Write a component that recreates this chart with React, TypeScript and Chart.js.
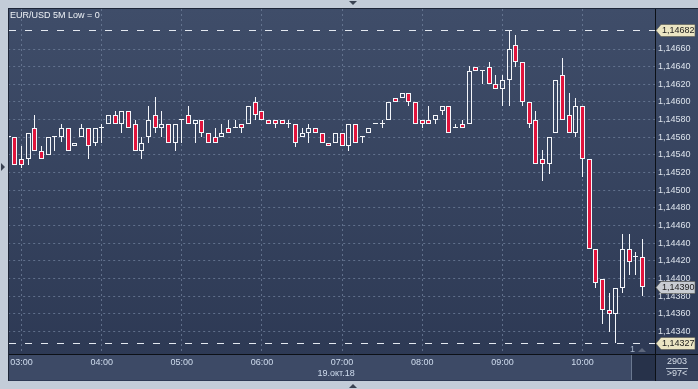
import React, { useEffect, useRef } from "react";
import { Chart, registerables, BarController } from "chart.js";

Chart.register(...registerables);

// ---- data ----
const candleTimes = [
  "02:50", "02:55",
  "03:00", "03:05", "03:10", "03:15", "03:20", "03:25", "03:30", "03:35", "03:40", "03:45", "03:50", "03:55",
  "04:00", "04:05", "04:10", "04:15", "04:20", "04:25", "04:30", "04:35", "04:40", "04:45", "04:50", "04:55",
  "05:00", "05:05", "05:10", "05:15", "05:20", "05:25", "05:30", "05:35", "05:40", "05:45", "05:50", "05:55",
  "06:00", "06:05", "06:10", "06:15", "06:20", "06:25", "06:30", "06:35", "06:40", "06:45", "06:50", "06:55",
  "07:00", "07:05", "07:10", "07:15", "07:20", "07:25", "07:30", "07:35", "07:40", "07:45", "07:50", "07:55",
  "08:00", "08:05", "08:10", "08:15", "08:20", "08:25", "08:30", "08:35", "08:40", "08:45", "08:50", "08:55",
  "09:00", "09:05", "09:10", "09:15", "09:20", "09:25", "09:30", "09:35", "09:40", "09:45", "09:50", "09:55",
  "10:00", "10:05", "10:10", "10:15", "10:20", "10:25", "10:30", "10:35", "10:40", "10:45", "10:50", "10:55",
];
const hourLabels = ["03:00", "04:00", "05:00", "06:00", "07:00", "08:00", "09:00", "10:00"];

const opens = [
  1.1456, 1.1456,
  1.14535, 1.14535, 1.1457, 1.14545, 1.1454, 1.1456, 1.1456, 1.1457, 1.1455, 1.1456, 1.1457, 1.14554,
  1.1457, 1.14575, 1.14585, 1.14575, 1.1459, 1.14575, 1.14545, 1.1456, 1.14585, 1.1457, 1.14575, 1.14554,
  1.1458, 1.14585, 1.14575, 1.1458, 1.14565, 1.1456, 1.1456, 1.1457, 1.1457, 1.14575, 1.14575, 1.146,
  1.1459, 1.1458, 1.1458, 1.1458, 1.14575, 1.14575, 1.1456, 1.14565, 1.1457, 1.14565, 1.14554, 1.14554,
  1.14565, 1.1455, 1.14575, 1.1456, 1.14565, 1.14575, 1.14575, 1.1458, 1.14605, 1.14605, 1.1461, 1.146,
  1.1458, 1.1458, 1.1458, 1.1459, 1.14595, 1.1457, 1.14575, 1.14575, 1.1464, 1.14635, 1.1464, 1.1462,
  1.14615, 1.14625, 1.14665, 1.14645, 1.146, 1.1458, 1.14535, 1.1453, 1.14565, 1.1463, 1.14585, 1.14565,
  1.14595, 1.14535, 1.14434, 1.14399, 1.14364, 1.1436, 1.14389, 1.14434, 1.14424, 1.14424,
];
const highs = [
  1.14561, 1.1456,
  1.1455, 1.14565, 1.14585, 1.1455, 1.1456, 1.1456, 1.14575, 1.1457, 1.14554, 1.14575, 1.1457, 1.1457,
  1.14575, 1.14585, 1.1459, 1.1459, 1.1459, 1.1458, 1.1456, 1.14595, 1.14606, 1.1459, 1.14575, 1.14575,
  1.1458, 1.14595, 1.1458, 1.1458, 1.14565, 1.1457, 1.14575, 1.1458, 1.1458, 1.14575, 1.14595, 1.14606,
  1.1459, 1.1458, 1.1458, 1.1458, 1.1458, 1.14575, 1.1457, 1.14575, 1.1457, 1.14565, 1.14554, 1.14565,
  1.14565, 1.14575, 1.14575, 1.1456, 1.1457, 1.14575, 1.1458, 1.146, 1.14605, 1.1461, 1.1461, 1.146,
  1.1458, 1.14595, 1.14585, 1.14595, 1.14595, 1.14575, 1.1458, 1.14641, 1.1464, 1.14635, 1.14645, 1.1463,
  1.1463, 1.14682, 1.14676, 1.14645, 1.146, 1.1459, 1.14546, 1.1456, 1.14625, 1.1465, 1.1461, 1.14605,
  1.14595, 1.14535, 1.14434, 1.14399, 1.14384, 1.14389, 1.1445, 1.1445, 1.1443, 1.14445,
];
const lows = [
  1.14559, 1.14529,
  1.14525, 1.14529, 1.14545, 1.14535, 1.1454, 1.14545, 1.14555, 1.14545, 1.1455, 1.1456, 1.14535, 1.1455,
  1.14554, 1.14575, 1.14575, 1.14565, 1.1457, 1.14545, 1.14535, 1.14554, 1.14565, 1.1456, 1.14554, 1.14545,
  1.14554, 1.14575, 1.14554, 1.1456, 1.14554, 1.14554, 1.1456, 1.14565, 1.1457, 1.14565, 1.14575, 1.1458,
  1.1458, 1.14575, 1.1457, 1.14575, 1.1457, 1.14549, 1.1456, 1.14554, 1.14565, 1.14554, 1.1455, 1.14554,
  1.1455, 1.14545, 1.14554, 1.14554, 1.14565, 1.14575, 1.1457, 1.1458, 1.146, 1.14605, 1.14595, 1.14575,
  1.1457, 1.14575, 1.14575, 1.14585, 1.14565, 1.1457, 1.1457, 1.14575, 1.14635, 1.1462, 1.1462, 1.14615,
  1.14595, 1.14595, 1.1464, 1.14595, 1.1457, 1.1453, 1.1451, 1.14519, 1.14565, 1.1458, 1.14565, 1.1456,
  1.14515, 1.14434, 1.14389, 1.14349, 1.14339, 1.14327, 1.14384, 1.14404, 1.14404, 1.1438,
];
const closes = [
  1.1456, 1.14529,
  1.14529, 1.14565, 1.14545, 1.14535, 1.1456, 1.1456, 1.1457, 1.14545, 1.14554, 1.1457, 1.1455, 1.1457,
  1.1457, 1.14585, 1.14575, 1.1459, 1.1457, 1.14545, 1.14554, 1.1458, 1.1457, 1.14575, 1.14554, 1.14575,
  1.1458, 1.14575, 1.1458, 1.14565, 1.14554, 1.14554, 1.14565, 1.14565, 1.1457, 1.1457, 1.14595, 1.14585,
  1.1458, 1.14575, 1.14575, 1.14575, 1.14575, 1.14554, 1.14565, 1.1457, 1.14565, 1.14554, 1.1455, 1.14565,
  1.1455, 1.14575, 1.14554, 1.1456, 1.1457, 1.14575, 1.14575, 1.146, 1.146, 1.1461, 1.146, 1.14575,
  1.14575, 1.14575, 1.14585, 1.14595, 1.14565, 1.1457, 1.1457, 1.14635, 1.14635, 1.14635, 1.1462, 1.14615,
  1.14625, 1.1466, 1.14645, 1.146, 1.14575, 1.1453, 1.1453, 1.1456, 1.14625, 1.1458, 1.14565, 1.14595,
  1.14535, 1.14434, 1.14395, 1.14364, 1.1436, 1.14389, 1.14434, 1.14419, 1.14424, 1.1439,
];

const priceTicks = [
  1.1434, 1.1436, 1.1438, 1.144, 1.1442, 1.1444, 1.1446, 1.1448, 1.145,
  1.1452, 1.1454, 1.1456, 1.1458, 1.146, 1.1462, 1.1464, 1.1466,
];
const yMin = 1.143146;
const yMax = 1.147053;
const highMark = 1.14682;
const lowMark = 1.14327;
const lastPrice = 1.1439;

const titleText = "EUR/USD 5M Low = 0";
const dateLabel = "19.окт.18";
const dateTick = "07:00";
const counterTop = "2903";
const counterBottom = ">97<";
const barMarker = "1";

// ---- styles ----
const FONT = "'Liberation Sans', Arial, sans-serif";
const WHITE = "#f4f6fa";
const RED = "#e1143c";
const GRID = "rgba(112,128,156,0.75)";
const AXIS_X = 655; // x of the price-axis separator line

// Bar controller that snaps bars to whole pixels so candle edges stay crisp
class SnapBarController extends (BarController as any) {
  updateElements(rects: any[], start: number, count: number, mode: any) {
    super.updateElements(rects, start, count, mode);
    for (let i = start; i < start + count; i++) {
      const r = rects[i];
      if (!r) continue;
      r.x = Math.floor(r.x) + 0.5;
      r.y = Math.round(r.y);
      r.base = Math.round(r.base);
    }
  }
}
(SnapBarController as any).id = "snapBar";
(SnapBarController as any).defaults = { ...(BarController as any).defaults };
(SnapBarController as any).overrides = (BarController as any).overrides;
Chart.register(SnapBarController as any);

function fmt(v: number): string {
  return v.toFixed(5).replace(".", ",");
}

function drawTag(ctx: CanvasRenderingContext2D, x0: number, y: number, text: string, fill: string) {
  const yy = Math.round(y) + 0.5;
  const h = 12;
  const xb = x0 + 5;
  const x1 = x0 + 39;
  ctx.beginPath();
  ctx.moveTo(x0, yy);
  ctx.lineTo(xb, yy - h / 2);
  ctx.lineTo(x1, yy - h / 2);
  ctx.lineTo(x1, yy + h / 2);
  ctx.lineTo(xb, yy + h / 2);
  ctx.closePath();
  ctx.fillStyle = fill;
  ctx.fill();
  ctx.strokeStyle = "rgba(90,90,80,0.6)";
  ctx.lineWidth = 1;
  ctx.stroke();
  ctx.fillStyle = "#1c1c1c";
  ctx.font = `9px ${FONT}`;
  ctx.textAlign = "left";
  ctx.textBaseline = "middle";
  ctx.fillText(text, xb + 1, yy + 0.5);
}

const decor = {
  id: "decor",
  beforeDraw(chart: any) {
    const { ctx, width, height, chartArea: a } = chart;
    ctx.save();
    ctx.fillStyle = "#c3ccd8";
    ctx.fillRect(0, 0, width, height);
    const panelBottom = a.bottom + 27;
    const g = ctx.createLinearGradient(0, 8, 0, panelBottom);
    g.addColorStop(0, "#3f4d69");
    g.addColorStop(1, "#2c3853");
    ctx.fillStyle = g;
    ctx.fillRect(8, 8, width - 8, panelBottom - 8);
    // bottom time panel
    ctx.fillStyle = "#3d4a66";
    ctx.fillRect(9, a.bottom, AXIS_X - 24 - 9, 26);
    ctx.fillStyle = "#27324a";
    ctx.fillRect(AXIS_X - 24, a.bottom, 24, 26);
    ctx.fillStyle = "#34405b";
    ctx.fillRect(AXIS_X, a.bottom, width - AXIS_X, 26);
    ctx.restore();
  },
  afterDraw(chart: any) {
    const { ctx, width, chartArea: a, scales } = chart;
    const y = scales.y;
    const x = scales.x;
    ctx.save();
    // frame lines
    ctx.lineWidth = 1;
    ctx.strokeStyle = "#1d2537";
    ctx.beginPath();
    ctx.moveTo(8.5, 8);
    ctx.lineTo(8.5, a.bottom + 27);
    ctx.moveTo(8, 8.5);
    ctx.lineTo(width, 8.5);
    ctx.stroke();
    ctx.strokeStyle = "#0c1016";
    ctx.beginPath();
    ctx.moveTo(AXIS_X + 0.5, a.top);
    ctx.lineTo(AXIS_X + 0.5, a.bottom + 27);
    ctx.moveTo(9, a.bottom + 0.5);
    ctx.lineTo(width, a.bottom + 0.5);
    ctx.stroke();
    ctx.strokeStyle = "#6a7890";
    ctx.beginPath();
    ctx.moveTo(AXIS_X - 23.5, a.bottom + 1);
    ctx.lineTo(AXIS_X - 23.5, a.bottom + 26);
    ctx.stroke();

    // high / low dashed lines
    ctx.strokeStyle = "#e3e8f0";
    ctx.setLineDash([7, 9]);
    for (const v of [highMark, lowMark]) {
      const py = Math.round(y.getPixelForValue(v)) + 0.5;
      ctx.beginPath();
      ctx.moveTo(9, py);
      ctx.lineTo(AXIS_X, py);
      ctx.stroke();
    }
    ctx.setLineDash([]);

    // title
    ctx.fillStyle = "#eef2f7";
    ctx.font = `9px ${FONT}`;
    ctx.textAlign = "left";
    ctx.textBaseline = "middle";
    ctx.fillText(titleText, 10, a.top + 6.5);

    // date under 07:00
    const di = candleTimes.indexOf(dateTick);
    ctx.fillStyle = "#cfdcee";
    ctx.textAlign = "center";
    ctx.fillText(dateLabel, x.getPixelForValue(di) - 6, a.bottom + 19.5);

    // bar marker
    ctx.fillStyle = "#aab8cc";
    ctx.fillText(barMarker, AXIS_X - 22.5, a.bottom - 4);
    ctx.fillStyle = "#5d677c";
    ctx.beginPath();
    ctx.moveTo(AXIS_X - 17, a.bottom - 2);
    ctx.lineTo(AXIS_X - 9, a.bottom - 2);
    ctx.lineTo(AXIS_X - 13, a.bottom - 6);
    ctx.closePath();
    ctx.fill();

    // counters in right bottom box
    const cx = (AXIS_X + width) / 2 + 0.5;
    ctx.fillStyle = "#d5dde8";
    ctx.fillText(counterTop, cx, a.bottom + 8);
    ctx.fillText(counterBottom, cx, a.bottom + 19.5);
    ctx.strokeStyle = "#b9c3d2";
    ctx.beginPath();
    ctx.moveTo(cx - 11, a.bottom + 14.5);
    ctx.lineTo(cx + 11, a.bottom + 14.5);
    ctx.stroke();

    // price tags
    drawTag(ctx, AXIS_X + 1, y.getPixelForValue(highMark), fmt(highMark), "#ebe5c3");
    drawTag(ctx, AXIS_X + 1, y.getPixelForValue(lastPrice), fmt(lastPrice), "#c9cdd3");
    drawTag(ctx, AXIS_X + 1, y.getPixelForValue(lowMark), fmt(lowMark), "#ebe5c3");

    // frame triangles
    ctx.fillStyle = "#3a4252";
    const tx = 353;
    ctx.beginPath();
    ctx.moveTo(tx - 4, 1);
    ctx.lineTo(tx + 4, 1);
    ctx.lineTo(tx, 5);
    ctx.closePath();
    ctx.fill();
    ctx.beginPath();
    ctx.moveTo(tx - 4, 388);
    ctx.lineTo(tx + 4, 388);
    ctx.lineTo(tx, 384);
    ctx.closePath();
    ctx.fill();
    ctx.beginPath();
    ctx.moveTo(1, 163);
    ctx.lineTo(1, 171);
    ctx.lineTo(5, 167);
    ctx.closePath();
    ctx.fill();
    ctx.restore();
  },
};

export default function App() {
  const ref = useRef<HTMLCanvasElement>(null);
  useEffect(() => {
    const canvas = ref.current;
    if (!canvas) return;
    const bodyColors = opens.map((o, j) =>
      closes[j] < o ? RED : closes[j] > o ? "rgba(0,0,0,0)" : WHITE
    );
    const chart = new Chart(canvas, {
      type: "snapBar" as any,
      data: {
        labels: candleTimes,
        datasets: [
          {
            label: "body",
            data: opens.map((o, j) => [o, closes[j]]),
            backgroundColor: bodyColors,
            borderColor: WHITE,
            borderWidth: 1,
            borderSkipped: false,
            barThickness: 5,
            minBarLength: 1,
            grouped: false,
            inflateAmount: 0,
          },
          {
            label: "upper",
            data: opens.map((o, j) => [Math.max(o, closes[j]), highs[j]]),
            backgroundColor: WHITE,
            borderWidth: 0,
            barThickness: 1,
            grouped: false,
            inflateAmount: 0,
          },
          {
            label: "lower",
            data: opens.map((o, j) => [lows[j], Math.min(o, closes[j])]),
            backgroundColor: WHITE,
            borderWidth: 0,
            barThickness: 1,
            grouped: false,
            inflateAmount: 0,
          },
        ] as any,
      },
      options: {
        animation: false,
        responsive: false,
        devicePixelRatio: 1,
        layout: { padding: { left: 8.2, top: 9, right: -1, bottom: 9 } },
        plugins: { legend: { display: false }, tooltip: { enabled: false } },
        scales: {
          x: {
            type: "category",
            position: "bottom",
            offset: false,
            grid: { offset: false, color: GRID, lineWidth: 1, drawTicks: false },
            border: { display: false, dash: [2, 3] },
            ticks: {
              autoSkip: false,
              maxRotation: 0,
              minRotation: 0,
              padding: 3,
              color: "#cfdcee",
              font: { family: FONT, size: 9 },
            },
            afterBuildTicks: (axis: any) => {
              axis.ticks = axis.ticks.filter((t: any) => hourLabels.includes(candleTimes[t.value]));
            },
            afterFit: (axis: any) => {
              axis.height = 26;
            },
          },
          y: {
            type: "linear",
            position: "right",
            min: yMin,
            max: yMax,
            grid: { color: GRID, lineWidth: 1, drawTicks: false },
            border: { display: false, dash: [2, 3] },
            ticks: {
              padding: 2,
              color: "#dce3ec",
              font: { family: FONT, size: 9 },
              callback: (v: any) => fmt(Number(v)),
            },
            afterBuildTicks: (axis: any) => {
              axis.ticks = priceTicks.map((v) => ({ value: v }));
            },
            afterFit: (axis: any) => {
              axis.width = 43;
            },
          },
        },
      } as any,
      plugins: [decor],
    });
    return () => chart.destroy();
  }, []);
  return (
    <div style={{ position: "fixed", left: 0, top: 0, width: 698, height: 389 }}>
      <canvas ref={ref} width={698} height={389} style={{ display: "block" }} />
    </div>
  );
}
